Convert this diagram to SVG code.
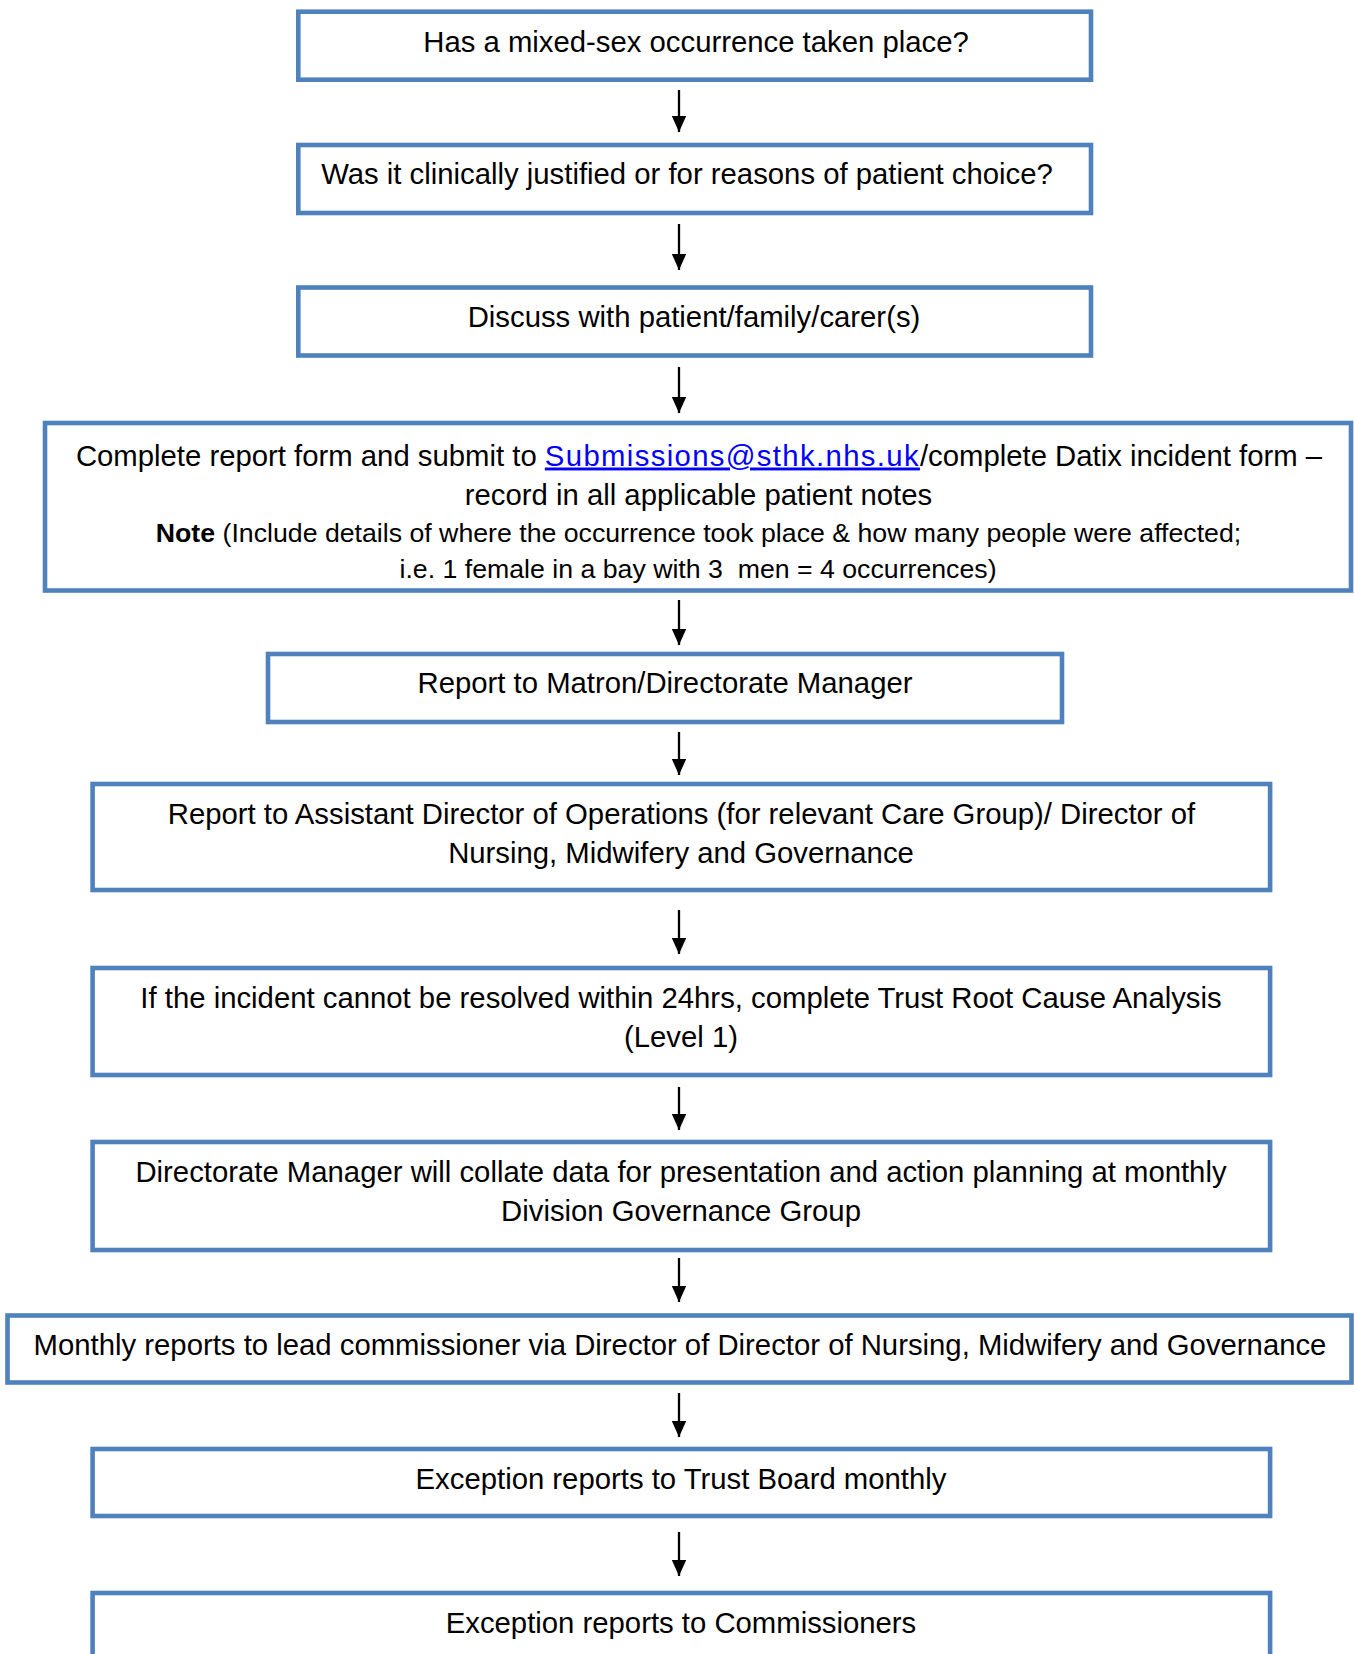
<svg xmlns="http://www.w3.org/2000/svg" width="1354" height="1654" viewBox="0 0 1354 1654">
<style>
.box{fill:#fff;stroke:#4F81BD;stroke-width:4.6}
.t{font-family:"Liberation Sans",Arial,sans-serif;font-size:29.3px;fill:#000;text-anchor:middle}
.s{font-family:"Liberation Sans",Arial,sans-serif;font-size:26.7px;fill:#000;text-anchor:middle}
.link{fill:#0000FF;text-decoration:underline;letter-spacing:1.35px}
.c{stroke:#000;stroke-width:2.3;fill:none}
</style>
<defs>
<marker id="ah" markerUnits="userSpaceOnUse" markerWidth="16" markerHeight="18" refX="16" refY="7.2" orient="auto">
<path d="M0,0 L16,7.2 L0,14.4 z" fill="#000"/>
</marker>
<clipPath id="clip4"><rect x="45" y="423" width="1306" height="161"/></clipPath>
</defs>
<rect width="1354" height="1654" fill="#fff"/>
<g id="connectors">
<line class="c" x1="679" y1="90" x2="679" y2="132" marker-end="url(#ah)"/>
<line class="c" x1="679" y1="224" x2="679" y2="270" marker-end="url(#ah)"/>
<line class="c" x1="679" y1="367" x2="679" y2="413" marker-end="url(#ah)"/>
<line class="c" x1="679" y1="600" x2="679" y2="645" marker-end="url(#ah)"/>
<line class="c" x1="679" y1="732" x2="679" y2="775" marker-end="url(#ah)"/>
<line class="c" x1="679" y1="910" x2="679" y2="954" marker-end="url(#ah)"/>
<line class="c" x1="679" y1="1087" x2="679" y2="1130" marker-end="url(#ah)"/>
<line class="c" x1="679" y1="1258" x2="679" y2="1302" marker-end="url(#ah)"/>
<line class="c" x1="679" y1="1393" x2="679" y2="1437" marker-end="url(#ah)"/>
<line class="c" x1="679" y1="1532" x2="679" y2="1576" marker-end="url(#ah)"/>
</g>
<g id="n1">
<rect class="box" x="298.3" y="11.7" width="792.7" height="68"/>
<text class="t" x="696" y="51.5">Has a mixed-sex occurrence taken place?</text>
</g>
<g id="n2">
<rect class="box" x="298.3" y="145" width="792.7" height="68"/>
<text class="t" x="687" y="184">Was it clinically justified or for reasons of patient choice?</text>
</g>
<g id="n3">
<rect class="box" x="298.3" y="287.5" width="792.7" height="68"/>
<text class="t" x="694" y="327">Discuss with patient/family/carer(s)</text>
</g>
<g id="n4">
<rect class="box" x="45" y="423" width="1306" height="167.5"/>
<text class="t" x="699" y="465.5">Complete report form and submit to <tspan class="link">Submissions@sthk.nhs.uk</tspan>/complete Datix incident form –</text>
<text class="t" x="698.5" y="505">record in all applicable patient notes</text>
<text class="s" x="698.5" y="541.5"><tspan font-weight="bold">Note</tspan> (Include details of where the occurrence took place &amp; how many people were affected;</text>
<text class="s" x="698" y="577.5" clip-path="url(#clip4)" xml:space="preserve">i.e. 1 female in a bay with 3  men = 4 occurrences)</text>
</g>
<g id="n5">
<rect class="box" x="268" y="654" width="794" height="68"/>
<text class="t" x="665" y="693">Report to Matron/Directorate Manager</text>
</g>
<g id="n6">
<rect class="box" x="92.6" y="784" width="1177.5" height="106"/>
<text class="t" x="681.5" y="823.7">Report to Assistant Director of Operations (for relevant Care Group)/ Director of</text>
<text class="t" x="681" y="862.7">Nursing, Midwifery and Governance</text>
</g>
<g id="n7">
<rect class="box" x="92.6" y="968" width="1177.5" height="107"/>
<text class="t" x="681" y="1007.7">If the incident cannot be resolved within 24hrs, complete Trust Root Cause Analysis</text>
<text class="t" x="681" y="1047">(Level 1)</text>
</g>
<g id="n8">
<rect class="box" x="92.6" y="1142" width="1177.5" height="108"/>
<text class="t" x="681" y="1182">Directorate Manager will collate data for presentation and action planning at monthly</text>
<text class="t" x="681" y="1220.5">Division Governance Group</text>
</g>
<g id="n9">
<rect class="box" x="7.5" y="1315.5" width="1344" height="67"/>
<text class="t" x="680" y="1355">Monthly reports to lead commissioner via Director of Director of Nursing, Midwifery and Governance</text>
</g>
<g id="n10">
<rect class="box" x="92.6" y="1449" width="1177.5" height="67"/>
<text class="t" x="681" y="1489.3">Exception reports to Trust Board monthly</text>
</g>
<g id="n11">
<rect class="box" x="92.6" y="1593" width="1177.5" height="80"/>
<text class="t" x="681" y="1632.7">Exception reports to Commissioners</text>
</g>
</svg>
